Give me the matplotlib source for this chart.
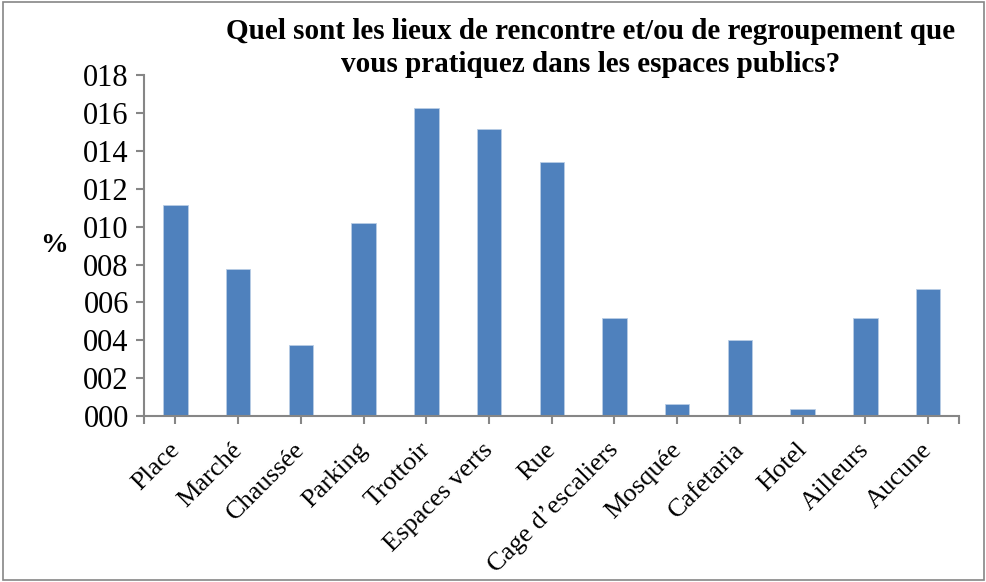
import numpy as np
from matplotlib import pyplot as plt
from matplotlib.patches import Rectangle
from matplotlib.transforms import ScaledTranslation

lieux = ["Place", "Marché", "Chaussée", "Parking", "Trottoir", "Espaces verts", "Rue",
         "Cage d\u2019escaliers", "Mosquée", "Cafetaria", "Hotel", "Ailleurs", "Aucune"]
pourcent = [11.12, 7.78, 3.75, 10.19, 16.24, 15.17, 13.43, 5.2, 0.65, 4.03, 0.37, 5.2, 6.7]
yticks = [0, 2, 4, 6, 8, 10, 12, 14, 16, 18]

plt.rcParams['font.family'] = ['Liberation Serif', 'DejaVu Serif']

fig = plt.figure(figsize=(9.87, 5.82), dpi=100)
ax = fig.add_axes([0.146, 0.285, 0.826, 0.586])

x = np.arange(len(lieux))
ax.bar(x, pourcent, width=0.39, color='#4F81BD', edgecolor='#B9CDE5', linewidth=0.6, zorder=2)

ax.set_xlim(-0.5, len(lieux) - 0.5)
ax.set_ylim(0, 18)
ax.set_yticks(yticks)
ax.set_yticklabels(["%03d" % v for v in yticks], fontsize=22)
ax.set_xticks(x)
ax.set_xticklabels([])
ax.set_xticks([-0.5, len(lieux) - 0.5], minor=True)

# category labels, rotated 45 deg, placed a bit below the axis
offset = ScaledTranslation(-7 / 100, -22.5 / 100, fig.dpi_scale_trans)
for i, lab in enumerate(lieux):
    ax.text(i, 0, lab, transform=ax.get_xaxis_transform() + offset, fontsize=19,
            rotation=45, ha='right', va='top', rotation_mode='anchor')

for s in ['top', 'right']:
    ax.spines[s].set_visible(False)
for s in ['left', 'bottom']:
    ax.spines[s].set_color('#868686')
    ax.spines[s].set_linewidth(1.5)
ax.tick_params(axis='both', which='both', color='#868686', width=1.5, length=6, direction='out')
ax.tick_params(axis='y', pad=5)

ax.set_ylabel("%", fontsize=20, fontweight='bold', rotation=0, va='center', ha='center')
ax.yaxis.set_label_coords(-0.111, 0.5)

fig.text(0.598, 0.918, "Quel sont les lieux de rencontre et/ou de regroupement que\nvous pratiquez dans les espaces publics?",
         ha='center', va='center', fontsize=21, fontweight='bold', linespacing=1.3)

fig.patches.append(Rectangle((0.003, 0.004), 0.994, 0.992, transform=fig.transFigure,
                             fill=False, edgecolor='#868686', linewidth=1.2))

fig.savefig("out.png", dpi=100)
